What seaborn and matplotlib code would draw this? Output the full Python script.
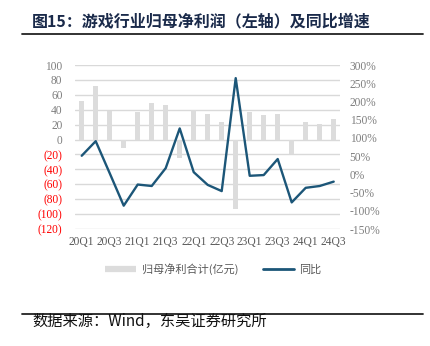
import numpy as np
import pandas as pd
import matplotlib
matplotlib.use("Agg")
import matplotlib.pyplot as plt
from matplotlib.lines import Line2D
import seaborn as sns

# Quarterly data for the gaming industry
quarters = ["20Q1", "20Q2", "20Q3", "20Q4",
            "21Q1", "21Q2", "21Q3", "21Q4",
            "22Q1", "22Q2", "22Q3", "22Q4",
            "23Q1", "23Q2", "23Q3", "23Q4",
            "24Q1", "24Q2", "24Q3"]
net_profit = [51.5, 72, 38.5, -11,
              37, 49, 46, -25,
              39, 34, 24, -93,
              37, 33, 34.5, -20,
              23, 21.5, 27]
yoy_pct = [51, 91, 3, -86,
           -28, -32, 17, 126,
           6, -29, -46, 264,
           -4, -2, 42, -77,
           -37, -32, -20]

left_ticks = [100, 80, 60, 40, 20, 0, -20, -40, -60, -80, -100, -120]
right_ticks = [300, 250, 200, 150, 100, 50, 0, -50, -100, -150]

df = pd.DataFrame({"quarter": quarters, "profit": net_profit,
                   "yoy": yoy_pct, "pos": np.arange(len(quarters))})

sns.set_style("white")
plt.rcParams["font.family"] = ["Noto Sans CJK SC", "DejaVu Sans"]

BAR_C = "#dcdcdc"
LINE_C = "#1c5678"
GRID_C = "#d9d9d9"
TICK_C = "#7f7f7f"
XLAB_C = "#595959"
SERIF = ["Liberation Serif", "DejaVu Serif"]

fig = plt.figure(figsize=(4.31, 3.46), dpi=100)
ax = fig.add_axes([75 / 431, 1 - 229 / 346, 265 / 431, 164 / 346])

# Bars: attributable net profit (left axis)
sns.barplot(data=df, x="quarter", y="profit", order=quarters,
            color=BAR_C, width=0.34, saturation=1, ax=ax, zorder=2)
for p in ax.patches:
    p.set_edgecolor("none")

ax.set_ylim(-120, 100)
ax.set_xlim(-0.48, len(quarters) - 1 + 0.45)
ax.set_yticks(left_ticks)
ax.set_yticklabels([f"({abs(v)})" if v < 0 else f"{v}" for v in left_ticks],
                   family=SERIF, fontsize=8.3)
for lbl, v in zip(ax.get_yticklabels(), left_ticks):
    lbl.set_color("#ff0000" if v < 0 else TICK_C)
ax.tick_params(axis="y", length=0, pad=9)
ax.yaxis.grid(True, color=GRID_C, linewidth=1.0)
ax.set_axisbelow(True)

ax.set_xticks(range(0, len(quarters), 2))
ax.set_xticklabels(quarters[::2], family=SERIF, fontsize=8.3, color=XLAB_C)
ax.tick_params(axis="x", length=0, pad=5)
ax.set_xlabel("")
ax.set_ylabel("")
for s in ax.spines.values():
    s.set_visible(False)

# Line: year-on-year growth (right axis)
ax2 = ax.twinx()
sns.lineplot(data=df, x="pos", y="yoy", color=LINE_C, linewidth=1.7,
             ax=ax2, zorder=3)
ax2.set_ylim(-150, 300)
ax2.set_yticks(right_ticks)
ax2.set_yticklabels([f"{v}%" for v in right_ticks], family=SERIF,
                    fontsize=8.3, color=TICK_C)
ax2.tick_params(axis="y", length=0, pad=7)
ax2.set_xlabel("")
ax2.set_ylabel("")
ax2.grid(False)
for s in ax2.spines.values():
    s.set_visible(False)

# Legend
handles = [Line2D([0], [0], color=BAR_C, linewidth=4.5, solid_capstyle="butt"),
           Line2D([0], [0], color=LINE_C, linewidth=2.0)]
fig.legend(handles, ["归母净利合计(亿元)", "同比"], loc="center",
           bbox_to_anchor=(0.495, 1 - 269 / 346), ncol=2, frameon=False,
           fontsize=8, handlelength=2.8, columnspacing=2.2, handletextpad=0.5,
           labelcolor=XLAB_C)

# Title, rules and source note
fig.text(32 / 431, 1 - 21 / 346, "图15：游戏行业归母净利润（左轴）及同比增速",
         fontsize=11.5, fontweight="bold", color="#1a2a4a",
         ha="left", va="center")
fig.add_artist(Line2D([22 / 431, 423 / 431], [1 - 33.5 / 346] * 2,
                      color="#222222", linewidth=1.3))
fig.add_artist(Line2D([22 / 431, 423 / 431], [1 - 313.5 / 346] * 2,
                      color="#222222", linewidth=1.3))
fig.text(32 / 431, 1 - 321.5 / 346, "数据来源：Wind，东吴证券研究所",
         fontsize=11, color="#111111", ha="left", va="center",
         family=["Noto Sans CJK SC", "Liberation Serif"])

fig.savefig("out.png", dpi=100)
